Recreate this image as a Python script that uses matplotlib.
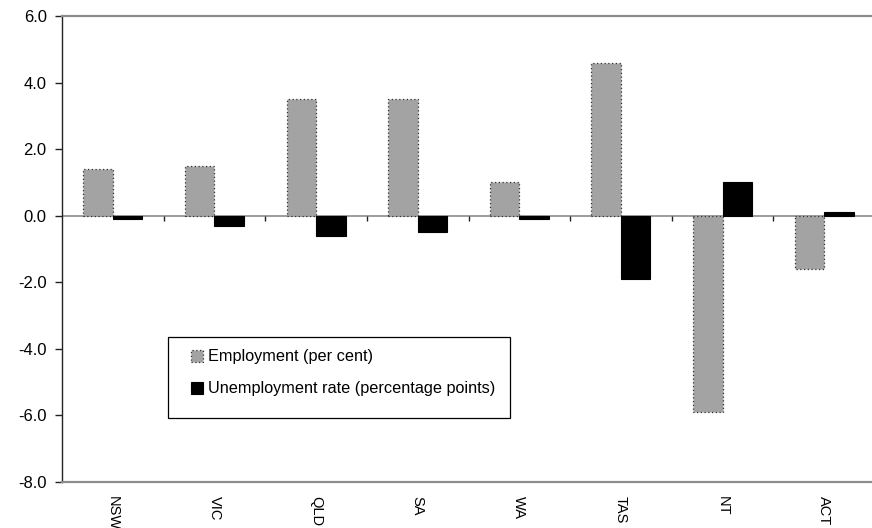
import matplotlib
matplotlib.use("Agg")
import matplotlib.pyplot as plt
from matplotlib.patches import Rectangle
import numpy as np

plt.rcParams['font.family'] = ['Liberation Sans', 'DejaVu Sans']
plt.rcParams['axes.unicode_minus'] = False

states = ["NSW", "VIC", "QLD", "SA", "WA", "TAS", "NT", "ACT"]
employment = [1.4, 1.5, 3.5, 3.5, 1.0, 4.6, -5.9, -1.6]
unemployment = [-0.1, -0.3, -0.6, -0.5, -0.1, -1.9, 1.0, 0.1]
yticks = [-8.0, -6.0, -4.0, -2.0, 0.0, 2.0, 4.0, 6.0]
labels = ["Employment (per cent)", "Unemployment rate (percentage points)"]

fig = plt.figure(figsize=(8.72, 5.28), dpi=100)
W, H = 872, 528
AX_L, AX_R, AX_T, AX_B = 62, 875, 16, 482
ax = fig.add_axes([AX_L / W, (H - AX_B) / H, (AX_R - AX_L) / W, (AX_B - AX_T) / H])

def axc(px, py):
    return ((px - AX_L) / (AX_R - AX_L), (AX_B - py) / (AX_B - AX_T))

x = np.arange(len(states))
bw = 0.29
ax.bar(x - bw / 2, employment, width=bw, color="#A3A3A3", edgecolor="#333333",
       linewidth=0.9, linestyle=(0, (1, 2)), label=labels[0], zorder=2)
ax.bar(x + bw / 2, unemployment, width=bw, color="black", edgecolor="black",
       linewidth=0.8, label=labels[1], zorder=2)

ax.axhline(0, color="#8C8C8C", linewidth=1.2, zorder=1)
bounds = np.arange(len(states) - 1) + 0.5
ax.plot(bounds, np.zeros_like(bounds), linestyle="none", marker=3,
        markersize=3.5, color="#222222", markeredgewidth=1.0, zorder=3)

ax.set_xlim(-0.5, len(states) - 0.5)
ax.set_ylim(-8, 6)
ax.set_yticks(yticks)
ax.set_yticklabels([f"{v:.1f}" for v in yticks], fontsize=12)
ax.set_xticks(x)
ax.set_xticklabels(states, rotation=-90, fontsize=10.5, va="top", ha="center")
ax.tick_params(axis="x", length=0, pad=10)
ax.tick_params(axis="y", length=5, width=1, color="#222222", direction="out", pad=6)

for s in ["top", "bottom"]:
    ax.spines[s].set_color("#8C8C8C")
    ax.spines[s].set_linewidth(1.6)
ax.spines["right"].set_visible(False)
ax.spines["left"].set_color("#222222")
ax.spines["left"].set_linewidth(1.0)

# legend box
bx0, by_top = axc(168, 337)
bx1, by_bot = axc(510, 418)
ax.add_patch(Rectangle((bx0, by_bot), bx1 - bx0, by_top - by_bot, transform=ax.transAxes,
                       facecolor="white", edgecolor="black", linewidth=0.9, zorder=4))

leg = ax.legend(loc="upper left", bbox_to_anchor=axc(181, 339),
                borderaxespad=0, frameon=False, fontsize=11.7,
                handlelength=0.75, handleheight=0.75, handletextpad=0.3,
                labelspacing=1.06, borderpad=0.63)
leg.set_zorder(5)

fig.savefig("out.png", dpi=100)
